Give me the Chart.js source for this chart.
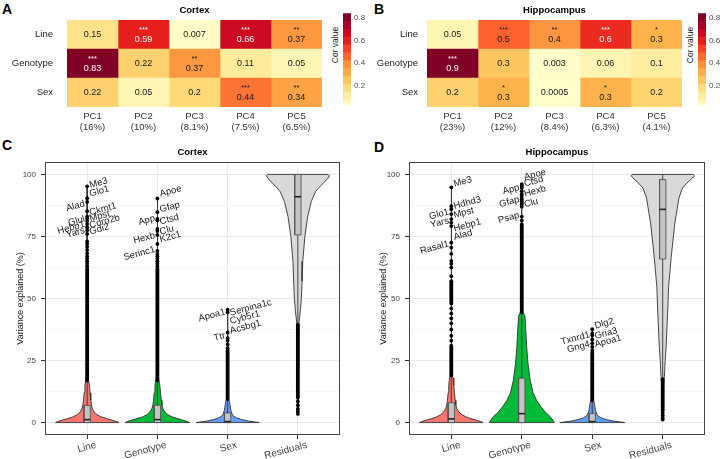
<!DOCTYPE html>
<html>
<head>
<meta charset="utf-8">
<script src="https://cdn.jsdelivr.net/npm/chart.js@4.4.1/dist/chart.umd.min.js"></script>
<style>
  body { margin: 0; background: #fff; width: 720px; height: 459px; overflow: hidden; position: relative;
         font-family: "Liberation Sans", Arial, Helvetica, sans-serif; }
  canvas { position: absolute; }
  .tag { position: absolute; font-weight: bold; font-size: 14px; line-height: 14px; color: #000; }
  .cbtitle { position: absolute; width: 60px; height: 10px; line-height: 10px; font-size: 8.5px; color: #1a1a1a;
             text-align: center; transform: rotate(-90deg); white-space: nowrap; }
</style>
</head>
<body>
<div class="tag" style="left:2px;top:1.5px">A</div>
<div class="tag" style="left:374px;top:1.5px">B</div>
<div class="tag" style="left:2px;top:138px">C</div>
<div class="tag" style="left:374px;top:140px">D</div>
<div class="cbtitle" style="left:305px;top:40px">Cor value</div>
<div class="cbtitle" style="left:660px;top:40px">Cor value</div>

<canvas id="heatA" width="330" height="140" style="left:0;top:0"></canvas>
<canvas id="cbA" width="40" height="120" style="left:325px;top:0"></canvas>
<canvas id="heatB" width="330" height="140" style="left:360px;top:0"></canvas>
<canvas id="cbB" width="40" height="120" style="left:680px;top:0"></canvas>
<canvas id="vioC" width="360" height="324" style="left:0;top:135px"></canvas>
<canvas id="vioD" width="360" height="324" style="left:360px;top:135px"></canvas>

<script>
// ---- heatmaps (A, B) ----
const rowLabels = ['Line', 'Genotype', 'Sex'];
const pcLabels = ['PC1', 'PC2', 'PC3', 'PC4', 'PC5'];
const pcVarCortex = ['16%', '10%', '8.1%', '7.5%', '6.5%'];
const pcVarHippo = ['23%', '12%', '8.4%', '6.3%', '4.1%'];

const corCortexLine = [0.15, 0.59, 0.007, 0.66, 0.37];
const corCortexGenotype = [0.83, 0.22, 0.37, 0.11, 0.05];
const corCortexSex = [0.22, 0.05, 0.2, 0.44, 0.34];
const sigCortexLine = ['', '***', '', '***', '**'];
const sigCortexGenotype = ['***', '', '**', '', ''];
const sigCortexSex = ['', '', '', '***', '**'];

const corHippoLine = [0.05, 0.47, 0.38, 0.57, 0.3];
const corHippoGenotype = [0.9, 0.25, 0.003, 0.06, 0.1];
const corHippoSex = [0.22, 0.3, 0.0005, 0.3, 0.21];
const sigHippoLine = ['', '***', '**', '***', '*'];
const sigHippoGenotype = ['***', '', '', '', ''];
const sigHippoSex = ['', '*', '', '*', ''];

const cbTicks = [0.2, 0.4, 0.6, 0.8];

// ---- violins (C, D) ----
const violinCats = ['Line', 'Genotype', 'Sex', 'Residuals'];
const yMajorTicks = [0, 25, 50, 75, 100];
const yMinorTicks = [12.5, 37.5, 62.5, 87.5];

// density outline: y values and half widths (category units)
const ctxLineDensY = [0, 0.5, 1, 1.6, 2.3, 3.2, 4.2, 5.5, 7, 9, 12, 15, 17, 19, 30, 60, 95.2];
const ctxLineDensW = [0.45, 0.41, 0.35, 0.28, 0.2, 0.14, 0.1, 0.075, 0.062, 0.052, 0.042, 0.032, 0.02, 0.008, 0.004, 0.003, 0.002];
const ctxGenoDensY = [0, 0.5, 1, 1.6, 2.3, 3.2, 4.2, 5.5, 7, 9, 12, 15, 17, 19, 30, 60, 90.3];
const ctxGenoDensW = [0.46, 0.42, 0.36, 0.29, 0.21, 0.15, 0.11, 0.08, 0.065, 0.055, 0.045, 0.035, 0.022, 0.008, 0.004, 0.003, 0.002];
const ctxSexDensY = [0, 0.6, 1.2, 2, 3, 5, 8, 10, 20, 45.5];
const ctxSexDensW = [0.45, 0.3, 0.2, 0.12, 0.07, 0.045, 0.03, 0.012, 0.004, 0.002];
const ctxResDensY = [3.5, 20, 35, 40, 45, 50, 57, 65, 75, 83, 89, 93, 95, 97, 98.5, 99.5, 100];
const ctxResDensW = [0.003, 0.004, 0.008, 0.015, 0.035, 0.05, 0.06, 0.07, 0.1, 0.14, 0.19, 0.25, 0.31, 0.38, 0.43, 0.45, 0.43];

const hipLineDensY = [0, 0.5, 1, 1.6, 2.3, 3.2, 4.2, 5.5, 7, 9, 12, 15, 18, 20, 30, 60, 94.8];
const hipLineDensW = [0.45, 0.41, 0.35, 0.28, 0.21, 0.15, 0.11, 0.08, 0.065, 0.055, 0.045, 0.036, 0.025, 0.008, 0.004, 0.003, 0.002];
const hipGenoDensY = [0, 1, 2.5, 4, 6.5, 9, 12, 17, 24, 30.5, 37, 43, 45, 60, 80, 96.1];
const hipGenoDensW = [0.46, 0.44, 0.4, 0.34, 0.27, 0.21, 0.16, 0.12, 0.088, 0.07, 0.058, 0.045, 0.01, 0.004, 0.003, 0.002];
const hipSexDensY = [0, 0.6, 1.2, 2, 3, 5, 8, 10, 20, 37.6];
const hipSexDensW = [0.46, 0.3, 0.2, 0.12, 0.07, 0.045, 0.03, 0.01, 0.004, 0.002];
const hipResDensY = [1.2, 10, 17, 18.5, 25, 30, 44, 54.5, 66.5, 80, 90.5, 94.5, 97, 98.5, 99.5, 100];
const hipResDensW = [0.003, 0.006, 0.015, 0.024, 0.035, 0.047, 0.07, 0.083, 0.12, 0.17, 0.23, 0.28, 0.36, 0.42, 0.45, 0.43];

// box: q1, median, q3, lower whisker, upper whisker
const ctxLineBox = [0, 1.2, 6.9, 0, 17];
const ctxGenoBox = [0, 1.2, 7, 0, 17];
const ctxSexBox = [0, 0.4, 3.9, 0, 9.5];
const ctxResBox = [75.6, 91, 100, 40, 100];
const hipLineBox = [0, 1.5, 8, 0, 19];
const hipGenoBox = [0, 3.6, 17.9, 0, 44.5];
const hipSexBox = [0, 0.4, 3.6, 0, 9];
const hipResBox = [65.9, 85.9, 97.9, 18, 100];

// outliers: dense runs [from, to] and separate points
const ctxLineDense = [[17, 62]];
const ctxLineDots = [95.2, 90.4, 88.9, 85.2, 83, 82.2, 81.2, 80, 78.7, 77.5, 76, 73, 72, 70.8, 69.5, 68.2, 67, 66, 65, 64, 63];
const ctxGenoDense = [[17, 62]];
const ctxGenoDots = [90.3, 84.8, 82.1, 81.5, 78, 77.2, 75.6, 72, 69.2, 68, 67, 66, 65, 64, 63];
const ctxSexDense = [[9.5, 29]];
const ctxSexDots = [45.5, 44.5, 36.3, 34, 33, 31.5, 30];
const ctxResDense = [[10, 39.5]];
const ctxResDots = [3.5, 4.5, 5.5, 7, 8.5];
const hipLineDense = [[19, 31], [48, 57]];
const hipLineDots = [94.8, 87.2, 86, 84, 82, 80.5, 79.2, 72.5, 70.5, 68, 65.2, 64, 62.5, 59, 46, 44, 42, 40, 37.5, 35, 33];
const hipGenoDense = [[44.5, 80]];
const hipGenoDots = [96.1, 95.5, 95, 94.5, 93.2, 92, 91, 90, 89.2, 88.5, 88, 87, 83, 81.5];
const hipSexDense = [[9, 28]];
const hipSexDots = [37.6, 35.8, 35.2, 33.5, 32, 30.5, 29];
const hipResDense = [[5, 17.5]];
const hipResDots = [1.2, 2, 3, 4];

// gene labels [name, y of text centre]
const ctxLineGenesL = [['Alad', 87.2], ['Glul', 81.2], ['Hebp1', 78.5], ['Yars', 76.5]];
const ctxLineGenesR = [['Me3', 96.5], ['Glo1', 93.2], ['Ckmt1', 86], ['Mpst', 83.2], ['Coro2b', 81], ['Gdi2', 77.9]];
const ctxGenoGenesL = [['App', 81.5], ['Hexb', 74.3], ['Serinc1', 68.1]];
const ctxGenoGenesR = [['Apoe', 93.2], ['Gfap', 86.8], ['Ctsd', 81.9], ['Clu', 77.5], ['K2c1', 74.8]];
const ctxSexGenesL = [['Apoa1', 43.2], ['Ttr', 34.5]];
const ctxSexGenesR = [['Serpina1c', 46.3], ['Cyb5r1', 42.3], ['Acsbg1', 38.5]];
const hipLineGenesL = [['Glo1', 83.9], ['Yars', 80.5], ['Rasal1', 70.5]];
const hipLineGenesR = [['Me3', 97], ['Hdhd3', 88.5], ['Mpst', 84.5], ['Hebp1', 79.5], ['Alad', 75.6]];
const hipGenoGenesL = [['App', 93.9], ['Gfap', 88.9], ['Psap', 82.5]];
const hipGenoGenesR = [['Apoe', 99.9], ['Ctsd', 97.2], ['Hexb', 93.2], ['Clu', 88.5]];
const hipSexGenesL = [['Txnrd1', 33.9], ['Gng4', 30.5]];
const hipSexGenesR = [['Dlg2', 39.9], ['Gria3', 35.9], ['Apoa1', 32.8]];

// ---------------------------------------------------------------
const FONT = '"Liberation Sans", Arial, Helvetica, sans-serif';
Chart.defaults.font.family = FONT;
Chart.defaults.animation = false;
Chart.defaults.responsive = false;
Chart.defaults.plugins.legend.display = false;
Chart.defaults.plugins.tooltip.enabled = false;

const ylOrRd = ['#ffffcc', '#ffeda0', '#fed976', '#feb24c', '#fd8d3c', '#fc4e2a', '#e31a1c', '#bd0026', '#800026'];
const violinFill = ['#F8766D', '#00BA38', '#619CFF', '#D9D9D9'];

function hexRgb(h) {
  return [1, 3, 5].map((i) => parseInt(h.slice(i, i + 2), 16));
}
function corColor(v) {
  const t = Math.min(Math.max(v / 0.1, 0), 8);
  const i = Math.min(Math.floor(t), 7), f = t - i;
  const a = hexRgb(ylOrRd[i]), b = hexRgb(ylOrRd[i + 1]);
  const c = a.map((x, k) => Math.round(x + (b[k] - x) * f));
  return `rgb(${c[0]},${c[1]},${c[2]})`;
}

const cellText = {
  id: 'cellText',
  afterDatasetsDraw(chart) {
    const { ctx } = chart;
    chart.data.datasets.forEach((ds, di) => {
      chart.getDatasetMeta(di).data.forEach((bar, ri) => {
        const v = ds.cor[ri], s = ds.sig[ri];
        const cx = (bar.x + bar.base) / 2, cy = bar.y;
        ctx.save();
        ctx.fillStyle = v > 0.55 ? '#ffffff' : '#1a1a1a';
        ctx.textAlign = 'center';
        ctx.textBaseline = 'middle';
        ctx.font = `9px ${FONT}`;
        ctx.fillText(ds.txt[ri], cx, s ? cy + 5.5 : cy);
        if (s) {
          ctx.font = `7.5px ${FONT}`;
          ctx.fillText(s, cx, cy - 5);
        }
        ctx.restore();
      });
    });
  }
};

function heatmap(id, title, pcVar, rows, sigs, digits, labelPad) {
  new Chart(document.getElementById(id), {
    type: 'bar',
    data: {
      labels: rowLabels,
      datasets: pcLabels.map((pc, j) => ({
        label: pc,
        data: rows.map(() => [j, j + 1]),
        backgroundColor: rows.map((r) => corColor(r[j])),
        cor: rows.map((r) => r[j]),
        txt: rows.map((r) => String(Number(r[j].toPrecision(digits)))),
        sig: sigs.map((s) => s[j]),
        borderWidth: 0,
        barPercentage: 1,
        categoryPercentage: 1,
        grouped: false
      }))
    },
    options: {
      indexAxis: 'y',
      layout: { padding: { right: 8 } },
      plugins: {
        title: { display: true, text: title, fullSize: false, color: '#000',
                 font: { size: 9.5, weight: 'bold' }, padding: { top: 5, bottom: 3.6 } }
      },
      scales: {
        x: {
          type: 'linear', min: 0, max: 5,
          grid: { display: false, drawTicks: false }, border: { display: false },
          afterBuildTicks: (s) => { s.ticks = pcLabels.map((_, i) => ({ value: i + 0.5 })); },
          afterFit: (s) => { s.height = 33; },
          ticks: { padding: 4, color: '#333', autoSkip: false, maxRotation: 0,
                   font: { size: 9.5, lineHeight: 1.15 },
                   callback: (v, i) => [pcLabels[i], '(' + pcVar[i] + ')'] }
        },
        y: {
          grid: { display: false, drawTicks: false }, border: { display: false },
          afterFit: (s) => { s.width = 67; },
          ticks: { padding: labelPad, color: '#222', font: { size: 9.5 } }
        }
      }
    },
    plugins: [cellText]
  });
}

function colorbar(id) {
  const bands = [];
  for (let lo = 0; lo < 0.84; lo += 0.07) bands.push([lo, lo + 0.07]);
  new Chart(document.getElementById(id), {
    type: 'bar',
    data: {
      labels: [''],
      datasets: bands.map((b) => ({
        data: [b], backgroundColor: corColor((b[0] + b[1]) / 2),
        borderWidth: 0, barPercentage: 1, categoryPercentage: 1, grouped: false
      }))
    },
    options: {
      layout: { padding: { left: 18, top: 13, bottom: 15 } },
      scales: {
        x: { display: false },
        y: {
          position: 'right', min: 0.025, max: 0.845,
          grid: { display: false, drawTicks: false }, border: { display: false },
          afterBuildTicks: (s) => { s.ticks = cbTicks.map((v) => ({ value: v })); },
          afterFit: (s) => { s.width = 14; },
          ticks: { padding: 3, color: '#4d4d4d', font: { size: 8 }, callback: (v) => v.toFixed(1) }
        }
      }
    }
  });
}

const panelBorder = {
  id: 'panelBorder',
  afterDraw(chart) {
    const { ctx, chartArea: a } = chart;
    ctx.save();
    ctx.strokeStyle = '#444';
    ctx.lineWidth = 1;
    ctx.strokeRect(a.left + 0.5, a.top + 0.5, a.right - a.left - 1, a.bottom - a.top - 1);
    ctx.restore();
  }
};

function geneLabels(groups) {
  return {
    id: 'geneLabels',
    afterDatasetsDraw(chart) {
      const { ctx, scales: { x, y } } = chart;
      const ang = 15 * Math.PI / 180;
      ctx.save();
      ctx.font = `9.5px ${FONT}`;
      ctx.fillStyle = '#1a1a1a';
      ctx.textAlign = 'center';
      ctx.textBaseline = 'middle';
      groups.forEach((g, k) => {
        const px = x.getPixelForValue(k + 1);
        [[g.left, -1], [g.right, 1]].forEach(([list, side]) => {
          list.forEach(([name, val]) => {
            const w = ctx.measureText(name).width;
            const cx = px + side * (2.5 + (w / 2) * Math.cos(ang));
            const cy = y.getPixelForValue(val);
            ctx.save();
            ctx.translate(cx, cy);
            ctx.rotate(-ang);
            ctx.fillText(name, 0, 0);
            ctx.restore();
          });
        });
      });
      ctx.restore();
    }
  };
}

function seg(cx, lo, hi, color, width, order) {
  return { data: [{ x: cx, y: lo }, { x: cx, y: hi }], borderColor: color, borderWidth: width,
           pointRadius: 0, order };
}

function violinDatasets(g, k) {
  const cx = k + 1, bw = 0.045;
  const [q1, med, q3, wLo, wHi] = g.box;
  const pt = (x, y) => ({ x, y });
  const left = g.densY.map((y, i) => pt(cx - g.densW[i], y));
  const right = g.densY.map((y, i) => pt(cx + g.densW[i], y)).reverse();
  const sets = [{
    data: [...left, ...right, left[0]], fill: 'shape', backgroundColor: violinFill[k],
    borderColor: '#333', borderWidth: 0.9, pointRadius: 0, order: 6
  }];
  if (wHi > q3) sets.push(seg(cx, q3, wHi, '#333', 0.9, 5));
  if (wLo < q1) sets.push(seg(cx, wLo, q1, '#333', 0.9, 5));
  sets.push({
    data: [pt(cx - bw, q1), pt(cx + bw, q1), pt(cx + bw, q3), pt(cx - bw, q3), pt(cx - bw, q1)],
    fill: 'shape', backgroundColor: '#c4c4c4', borderColor: '#555', borderWidth: 0.9, pointRadius: 0, order: 4
  });
  sets.push({ data: [pt(cx - bw, med), pt(cx + bw, med)], borderColor: '#222', borderWidth: 1.6, pointRadius: 0, order: 3 });
  g.dense.forEach(([lo, hi]) => sets.push(Object.assign(seg(cx, lo, hi, '#000', 3.8, 2), { borderCapStyle: 'round' })));
  sets.push({
    data: g.dots.map((y) => pt(cx, y)), showLine: false, pointRadius: 1.9,
    pointBackgroundColor: '#000', pointBorderWidth: 0, order: 1
  });
  return sets;
}

function violinPanel(id, title, groups, axisW, padR, titlePad) {
  const isMinor = (c) => c.tick && yMinorTicks.includes(c.tick.value);
  new Chart(document.getElementById(id), {
    type: 'line',
    data: { datasets: groups.flatMap((g, k) => violinDatasets(g, k)) },
    options: {
      layout: { padding: { right: padR } },
      elements: { point: { radius: 0, hoverRadius: 0 }, line: { tension: 0 } },
      plugins: {
        title: { display: true, text: title, fullSize: false, color: '#000',
                 font: { size: 9.5, weight: 'bold' }, padding: { top: 11.6, bottom: 4 } }
      },
      scales: {
        x: {
          type: 'linear', min: 0.4, max: 4.6,
          afterBuildTicks: (s) => { s.ticks = violinCats.map((_, i) => ({ value: i + 1 })); },
          afterFit: (s) => { s.height = 24; },
          grid: { color: '#ebebeb', tickLength: 4, tickColor: '#333' },
          border: { display: false },
          ticks: { callback: (v, i) => violinCats[i], autoSkip: false, minRotation: 15, maxRotation: 15,
                   labelOffset: 9, padding: 0, color: '#444', font: { size: 10 } }
        },
        y: {
          type: 'linear', min: -5, max: 105,
          afterBuildTicks: (s) => {
            s.ticks = [...yMajorTicks, ...yMinorTicks].sort((a, b) => a - b).map((v) => ({ value: v }));
          },
          afterFit: (s) => { s.width = axisW; },
          grid: {
            color: (c) => (isMinor(c) ? '#f3f3f3' : '#ebebeb'),
            lineWidth: (c) => (isMinor(c) ? 0.7 : 1),
            tickColor: (c) => (isMinor(c) ? 'rgba(0,0,0,0)' : '#333'),
            tickLength: 4
          },
          border: { display: false },
          ticks: { autoSkip: false, padding: 5, color: '#444', font: { size: 8 },
                   callback: (v) => (yMajorTicks.includes(v) ? String(v) : '') },
          title: { display: true, text: 'Variance explained (%)', color: '#1a1a1a',
                   font: { size: 9 }, padding: { top: titlePad, bottom: 0 } }
        }
      }
    },
    plugins: [geneLabels(groups), panelBorder]
  });
}

heatmap('heatA', 'Cortex', pcVarCortex,
        [corCortexLine, corCortexGenotype, corCortexSex],
        [sigCortexLine, sigCortexGenotype, sigCortexSex], 2, 14);
heatmap('heatB', 'Hippocampus', pcVarHippo,
        [corHippoLine, corHippoGenotype, corHippoSex],
        [sigHippoLine, sigHippoGenotype, sigHippoSex], 1, 9);
colorbar('cbA');
colorbar('cbB');

violinPanel('vioC', 'Cortex', [
  { densY: ctxLineDensY, densW: ctxLineDensW, box: ctxLineBox, dense: ctxLineDense, dots: ctxLineDots, left: ctxLineGenesL, right: ctxLineGenesR },
  { densY: ctxGenoDensY, densW: ctxGenoDensW, box: ctxGenoBox, dense: ctxGenoDense, dots: ctxGenoDots, left: ctxGenoGenesL, right: ctxGenoGenesR },
  { densY: ctxSexDensY, densW: ctxSexDensW, box: ctxSexBox, dense: ctxSexDense, dots: ctxSexDots, left: ctxSexGenesL, right: ctxSexGenesR },
  { densY: ctxResDensY, densW: ctxResDensW, box: ctxResBox, dense: ctxResDense, dots: ctxResDots, left: [], right: [] }
], 45, 20, 15);

violinPanel('vioD', 'Hippocampus', [
  { densY: hipLineDensY, densW: hipLineDensW, box: hipLineBox, dense: hipLineDense, dots: hipLineDots, left: hipLineGenesL, right: hipLineGenesR },
  { densY: hipGenoDensY, densW: hipGenoDensW, box: hipGenoBox, dense: hipGenoDense, dots: hipGenoDots, left: hipGenoGenesL, right: hipGenoGenesR },
  { densY: hipSexDensY, densW: hipSexDensW, box: hipSexBox, dense: hipSexDense, dots: hipSexDots, left: hipSexGenesL, right: hipSexGenesR },
  { densY: hipResDensY, densW: hipResDensW, box: hipResBox, dense: hipResDense, dots: hipResDots, left: [], right: [] }
], 49, 15, 18);
</script>
</body>
</html>
